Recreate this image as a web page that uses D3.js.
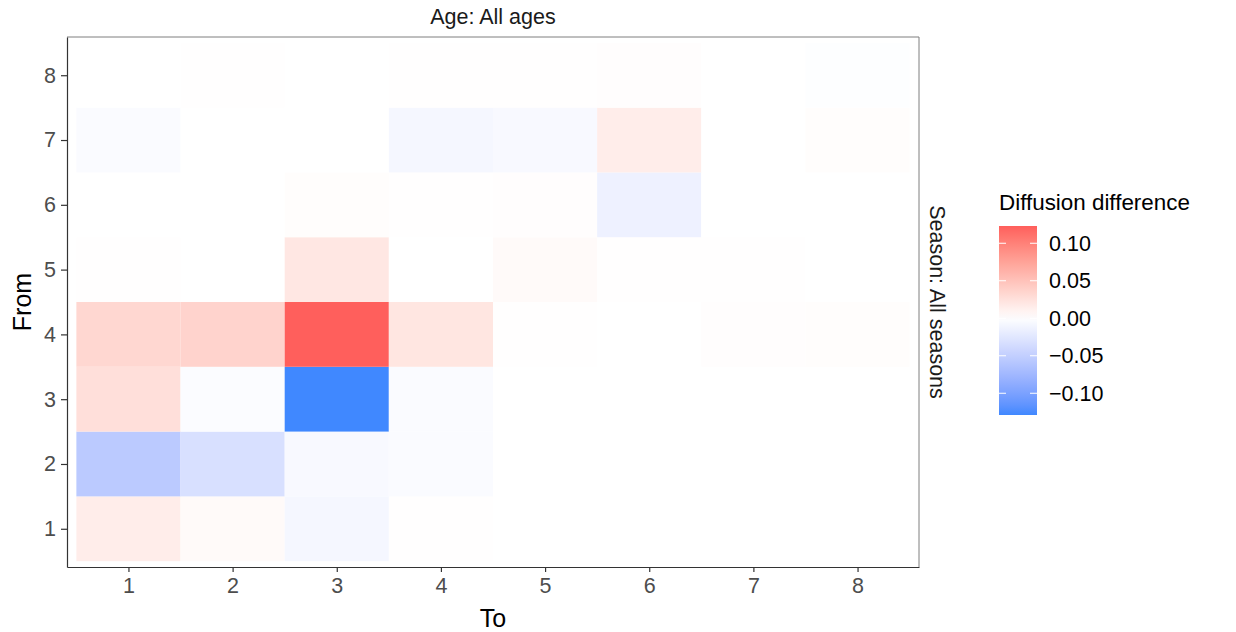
<!DOCTYPE html>
<html>
<head>
<meta charset="utf-8">
<script src="https://cdn.jsdelivr.net/npm/d3@7"></script>
<style>
  body { margin: 0; background: #fff; }
  text { font-family: "Liberation Sans", Arial, sans-serif; }
</style>
</head>
<body>
<div id="chart"></div>
<script>
  // categories
  var toCats = [1, 2, 3, 4, 5, 6, 7, 8];
  var fromCats = [1, 2, 3, 4, 5, 6, 7, 8];
  // diffusion difference, one row per "From" (1..8), columns are "To" (1..8)
  var row1 = [0.015, 0.004, -0.008, 0.0005, 0, 0, 0, 0];
  var row2 = [-0.055, -0.032, -0.006, -0.004, 0, 0, 0, 0];
  var row3 = [0.026, -0.003, -0.129, -0.004, 0, 0, 0, 0];
  var row4 = [0.033, 0.036, 0.123, 0.021, 0.001, 0, 0.0015, 0.002];
  var row5 = [0.0005, 0, 0.02, 0, 0.004, 0.0005, 0.0005, 0];
  var row6 = [0, 0, 0.002, 0.001, 0.0015, -0.014, 0.0003, 0];
  var row7 = [-0.004, 0, 0, -0.008, -0.006, 0.015, 0, 0.002];
  var row8 = [0, 0.0008, 0, 0.0008, 0.0008, 0.0015, 0.0003, -0.0015];
  var legendTicks = [-0.10, -0.05, 0.00, 0.05, 0.10];

  var rows = [row1, row2, row3, row4, row5, row6, row7, row8];
  var cells = [];
  rows.forEach(function(r, i) {
    r.forEach(function(v, j) {
      cells.push({from: fromCats[i], to: toCats[j], value: v});
    });
  });

  var W = 1236, H = 632;
  var panel = {left: 67, top: 37, right: 919, bottom: 567};
  var fs = "21.5px";

  var svg = d3.select("#chart").append("svg")
      .attr("width", W)
      .attr("height", H);

  var padX = 0.09, padY = 0.09;
  var x = d3.scaleLinear()
      .domain([0.5 - padX, 8.5 + padX])
      .range([panel.left, panel.right]);
  var y = d3.scaleLinear()
      .domain([0.5 - padY, 8.5 + padY])
      .range([panel.bottom, panel.top]);

  var vmin = d3.min(cells, function(d) { return d.value; });
  var vmax = d3.max(cells, function(d) { return d.value; });
  var m = Math.max(Math.abs(vmin), Math.abs(vmax));
  var color = d3.scaleDiverging()
      .domain([-m, 0, m])
      .interpolator(d3.piecewise(d3.interpolateLab, ["#4088ff", "#ffffff", "#ff5555"]));

  // tiles
  svg.append("g")
    .selectAll("rect")
    .data(cells)
    .enter().append("rect")
      .attr("x", function(d) { return x(d.to - 0.5); })
      .attr("y", function(d) { return y(d.from + 0.5); })
      .attr("width", function(d) { return x(d.to + 0.5) - x(d.to - 0.5); })
      .attr("height", function(d) { return y(d.from - 0.5) - y(d.from + 0.5); })
      .attr("fill", function(d) { return color(d.value); });

  // panel border (top/right light), axis lines (left/bottom dark)
  svg.append("path")
      .attr("d", "M" + panel.left + "," + panel.top + "H" + panel.right + "V" + panel.bottom)
      .attr("fill", "none")
      .attr("stroke", "#7f7f7f")
      .attr("stroke-width", 1);

  var xAxis = svg.append("g")
      .attr("transform", "translate(0," + panel.bottom + ")")
      .call(d3.axisBottom(x).tickValues(toCats).tickSize(5).tickPadding(6).tickSizeOuter(0));
  var yAxis = svg.append("g")
      .attr("transform", "translate(" + panel.left + ",0)")
      .call(d3.axisLeft(y).tickValues(fromCats).tickSize(6).tickPadding(5).tickSizeOuter(0));

  [xAxis, yAxis].forEach(function(a) {
    a.select(".domain").attr("stroke", "#333").attr("stroke-width", 1.2);
    a.selectAll(".tick line").attr("stroke", "#333").attr("stroke-width", 1.2);
    a.selectAll(".tick text")
      .attr("fill", "#4d4d4d")
      .style("font-size", fs);
  });

  // axis titles
  svg.append("text")
      .attr("x", (panel.left + panel.right) / 2)
      .attr("y", 627)
      .attr("text-anchor", "middle")
      .style("font-size", "25px")
      .text("To");
  svg.append("text")
      .attr("transform", "translate(31," + ((panel.top + panel.bottom) / 2) + ") rotate(-90)")
      .attr("text-anchor", "middle")
      .style("font-size", "25px")
      .text("From");

  // facet strips
  svg.append("text")
      .attr("x", (panel.left + panel.right) / 2)
      .attr("y", 24)
      .attr("text-anchor", "middle")
      .attr("fill", "#1a1a1a")
      .style("font-size", fs)
      .text("Age: All ages");
  svg.append("text")
      .attr("transform", "translate(930," + ((panel.top + panel.bottom) / 2) + ") rotate(90)")
      .attr("text-anchor", "middle")
      .attr("fill", "#1a1a1a")
      .style("font-size", fs)
      .text("Season: All seasons");

  // legend
  var lg = {x: 999, top: 226, bottom: 415, w: 38};
  var ly = d3.scaleLinear().domain([vmin, vmax]).range([lg.bottom, lg.top]);

  var defs = svg.append("defs");
  var grad = defs.append("linearGradient")
      .attr("id", "legGrad")
      .attr("x1", 0).attr("y1", 1).attr("x2", 0).attr("y2", 0);
  d3.range(0, 1.0001, 0.05).forEach(function(t) {
    grad.append("stop")
      .attr("offset", t)
      .attr("stop-color", color(vmin + t * (vmax - vmin)));
  });

  svg.append("text")
      .attr("x", lg.x)
      .attr("y", 210)
      .style("font-size", "22.4px")
      .text("Diffusion difference");

  svg.append("rect")
      .attr("x", lg.x)
      .attr("y", lg.top)
      .attr("width", lg.w)
      .attr("height", lg.bottom - lg.top)
      .attr("fill", "url(#legGrad)");

  var lt = svg.append("g").selectAll("g")
      .data(legendTicks)
      .enter().append("g");
  lt.append("line")
      .attr("x1", lg.x).attr("x2", lg.x + 7)
      .attr("y1", function(d) { return ly(d); })
      .attr("y2", function(d) { return ly(d); })
      .attr("stroke", "#fff").attr("stroke-width", 1);
  lt.append("line")
      .attr("x1", lg.x + lg.w - 7).attr("x2", lg.x + lg.w)
      .attr("y1", function(d) { return ly(d); })
      .attr("y2", function(d) { return ly(d); })
      .attr("stroke", "#fff").attr("stroke-width", 1);
  lt.append("text")
      .attr("x", lg.x + lg.w + 12)
      .attr("y", function(d) { return ly(d); })
      .attr("dy", "0.35em")
      .style("font-size", fs)
      .text(function(d) { return d3.format(".2f")(d).replace("-", "\u2212"); });
</script>
</body>
</html>
